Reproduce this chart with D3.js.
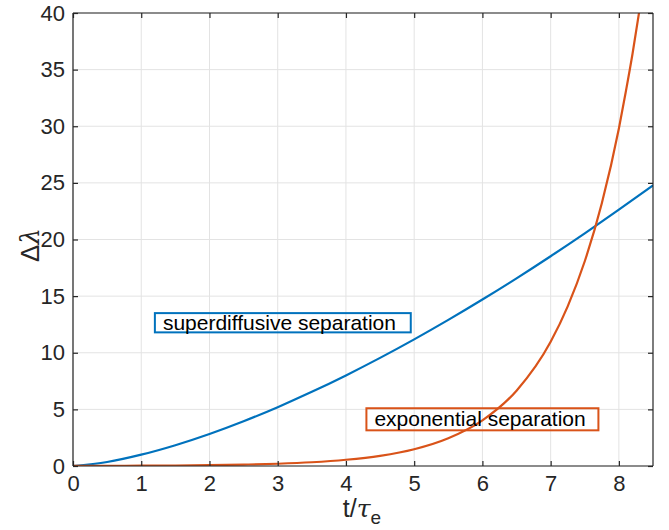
<!DOCTYPE html>
<html><head><meta charset="utf-8">
<script src="https://cdn.jsdelivr.net/npm/d3@7"></script>
<style>body{margin:0;background:#fff;} text{font-family:"Liberation Sans",Arial,Helvetica,sans-serif;}</style>
</head><body>
<svg id="c" width="669" height="530"></svg>
<script>
const xTicks = [0,1,2,3,4,5,6,7,8];
const yTicks = [0,5,10,15,20,25,30,35,40];
const tSuper = [0,0.5,1,1.5,2,2.5,3,3.5,4,4.5,5,5.5,6,6.5,7,7.5,8,8.5];
const vSuper = [0,0.354,1,1.837,2.828,3.953,5.196,6.547,8,9.546,11.18,12.9,14.7,16.57,18.52,20.54,22.63,24.78];
const tExp = [0,0.5,1,1.5,2,2.5,3,3.5,4,4.5,5,5.5,6,6.5,7,7.25,7.5,7.75,8,8.1,8.2,8.3];
const vExp = [0.01,0.016,0.027,0.045,0.074,0.122,0.20,0.33,0.55,0.90,1.48,2.45,4.03,6.65,10.97,14.1,18.08,23.2,29.8,33.0,36.4,40.2];
const labels = ["superdiffusive separation","exponential separation"];
const colors = ["#0072BD","#D95319"];

const svg = d3.select("#c");
const L=73,R=653,T=13,B=466;
const x = d3.scaleLinear().domain([0,8.5]).range([L,R]);
const y = d3.scaleLinear().domain([0,40]).range([B,T]);

const g = svg.append("g");
g.selectAll(".gx").data(xTicks).enter().append("line")
 .attr("x1",d=>x(d)).attr("x2",d=>x(d)).attr("y1",T).attr("y2",B)
 .attr("stroke","#e3e3e3").attr("stroke-width",1);
g.selectAll(".gy").data(yTicks).enter().append("line")
 .attr("y1",d=>y(d)).attr("y2",d=>y(d)).attr("x1",L).attr("x2",R)
 .attr("stroke","#e3e3e3").attr("stroke-width",1);

svg.append("clipPath").attr("id","clip").append("rect").attr("x",L).attr("y",T).attr("width",R-L).attr("height",B-T);

const line = d3.line().x(d=>x(d[0])).y(d=>y(d[1])).curve(d3.curveMonotoneX);
svg.append("path").datum(tSuper.map((t,i)=>[t,vSuper[i]])).attr("d",line)
 .attr("fill","none").attr("stroke",colors[0]).attr("stroke-width",2.2).attr("clip-path","url(#clip)");
svg.append("path").datum(tExp.map((t,i)=>[t,vExp[i]])).attr("d",line)
 .attr("fill","none").attr("stroke",colors[1]).attr("stroke-width",2.2).attr("clip-path","url(#clip)");

const xb = d3.axisBottom(x).tickValues(xTicks).tickSize(-5).tickPadding(9).tickFormat(d3.format("d"));
const xt = d3.axisTop(x).tickValues(xTicks).tickSize(-5).tickFormat("");
const yl = d3.axisLeft(y).tickValues(yTicks).tickSize(-5).tickPadding(8).tickFormat(d3.format("d"));
const yr = d3.axisRight(y).tickValues(yTicks).tickSize(-5).tickFormat("");
function style(sel){
  sel.select(".domain").attr("stroke","#262626").attr("stroke-width",1.2);
  sel.selectAll(".tick line").attr("stroke","#262626").attr("stroke-width",1.2);
  sel.selectAll(".tick text").attr("fill","#262626").style("font-size","22px").style("font-family","'Liberation Sans', Arial, sans-serif");
}
svg.append("g").attr("transform",`translate(0,${B})`).call(xb).call(style).call(s=>s.select(".domain").attr("d",`M${L},0H${R}`));
svg.append("g").attr("transform",`translate(0,${T})`).call(xt).call(style).call(s=>s.select(".domain").attr("d",`M${L},0H${R}`));
svg.append("g").attr("transform",`translate(${L},0)`).call(yl).call(style).call(s=>s.select(".domain").attr("d",`M0,${T}V${B}`));
svg.append("g").attr("transform",`translate(${R},0)`).call(yr).call(style).call(s=>s.select(".domain").attr("d",`M0,${T}V${B}`));

const xl = svg.append("text").attr("x",362).attr("y",517).attr("text-anchor","middle").style("font-size","25px").attr("fill","#262626");
xl.append("tspan").text("t/");
xl.append("tspan").style("font-family","'DejaVu Serif', serif").attr("font-style","italic").text("τ");
xl.append("tspan").style("font-size","19px").attr("dy",7).text("e");

const yla = svg.append("text").attr("transform","translate(39,245) rotate(-90)").attr("text-anchor","middle").style("font-size","26px").attr("fill","#262626");
yla.append("tspan").text("Δ");
yla.append("tspan").style("font-family","'DejaVu Serif', serif").attr("font-style","italic").text("λ");

const boxes = [
 {x0:1.2,x1:4.95,y0:11.8,y1:13.5},
 {x0:4.3,x1:7.7,y0:3.15,y1:5.1}
];
boxes.forEach((b,i)=>{
  svg.append("rect").attr("x",x(b.x0)).attr("y",y(b.y1)).attr("width",x(b.x1)-x(b.x0)).attr("height",y(b.y0)-y(b.y1))
   .attr("fill","none").attr("stroke",colors[i]).attr("stroke-width",2);
  svg.append("text").attr("x",x(b.x0)+8).attr("y",(y(b.y0)+y(b.y1))/2+7).style("font-size","21px").attr("fill","#000").text(labels[i]);
});
</script>
</body></html>
